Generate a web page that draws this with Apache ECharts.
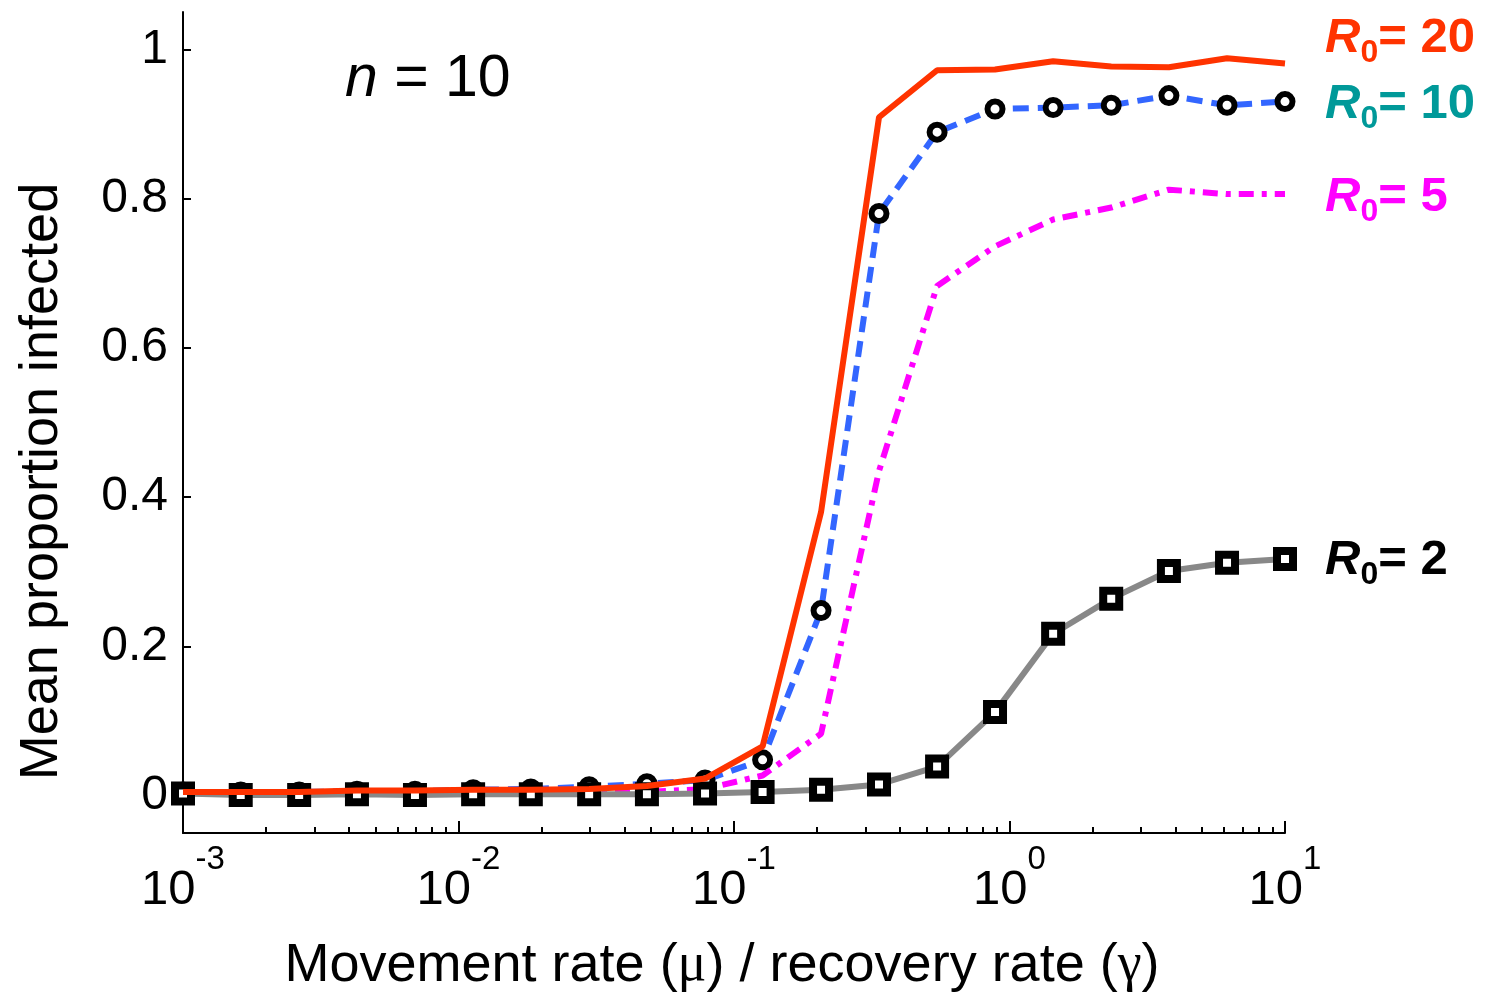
<!DOCTYPE html>
<html><head><meta charset="utf-8">
<script src="https://cdn.jsdelivr.net/npm/echarts@6/dist/echarts.min.js"></script>
<style>html,body{margin:0;padding:0;background:#fff}#c{width:1488px;height:998px}</style>
</head><body><div id="c"></div>
<script>
// Movement rate / recovery rate (log-spaced sample points)
const xValues = [0.001, 0.00162, 0.00264, 0.00428, 0.00695, 0.0113, 0.0183, 0.0298, 0.0483, 0.0785,
                 0.127, 0.207, 0.336, 0.546, 0.886, 1.44, 2.34, 3.79, 6.16, 10];
// Mean proportion infected
const r20 = [0.005, 0.005, 0.005, 0.007, 0.007, 0.008, 0.008, 0.009, 0.013, 0.023,
             0.066, 0.38, 0.909, 0.972, 0.973, 0.984, 0.977, 0.976, 0.988, 0.981];
const r10 = [0.005, 0.005, 0.005, 0.006, 0.006, 0.008, 0.009, 0.012, 0.016, 0.021,
             0.048, 0.248, 0.78, 0.889, 0.92, 0.922, 0.925, 0.938, 0.925, 0.930];
const r5  = [0.004, 0.004, 0.004, 0.004, 0.004, 0.004, 0.004, 0.004, 0.005, 0.009,
             0.027, 0.083, 0.435, 0.683, 0.736, 0.772, 0.788, 0.812, 0.806, 0.806];
const r2  = [0.003, 0.001, 0.001, 0.002, 0.001, 0.002, 0.002, 0.002, 0.002, 0.003,
             0.005, 0.008, 0.015, 0.039, 0.112, 0.217, 0.264, 0.301, 0.312, 0.317];
const seriesLabels = ['20', '10', '5', '2'];
const yTickValues = [0, 0.2, 0.4, 0.6, 0.8, 1];
const xTickValues = [0.001, 0.01, 0.1, 1, 10];
const xMinorTicks = [];
for (let d = -3; d < 1; d++) for (let k = 2; k <= 9; k++) xMinorTicks.push(+(k * Math.pow(10, d)).toPrecision(3));

const FONT = 'Liberation Sans';
const pair = ys => xValues.map((x, i) => [x, ys[i]]);

function endLabel(txt, color, dy) {
  return {
    show: true, distance: 40, offset: [0, dy], color: color,
    formatter: '{r|R}{s|0}{t|= ' + txt + '}',
    rich: {
      r: { fontFamily: FONT, fontSize: 49, fontWeight: 'bold', fontStyle: 'italic', color: color, lineHeight: 62 },
      s: { fontFamily: FONT, fontSize: 32, fontWeight: 'bold', color: color, lineHeight: 30, verticalAlign: 'bottom' },
      t: { fontFamily: FONT, fontSize: 49, fontWeight: 'bold', color: color, lineHeight: 62 }
    }
  };
}

const chart = echarts.init(document.getElementById('c'), null, { renderer: 'canvas' });
chart.setOption({
  backgroundColor: '#ffffff',
  animation: false,
  title: {
    text: '{i|n} = 10', left: 345, top: 50, padding: 0,
    textStyle: { fontFamily: FONT, fontSize: 59, fontWeight: 'normal', color: '#000', lineHeight: 59,
      rich: { i: { fontFamily: FONT, fontSize: 59, fontStyle: 'italic', color: '#000', lineHeight: 59 } } }
  },
  grid: { left: 183, right: 203, top: 12, bottom: 165 },
  xAxis: [{
    type: 'log', logBase: 10, min: 0.001, max: 10, position: 'bottom',
    name: 'Movement rate ({g|\u03bc}) / recovery rate ({g|\u03b3})',
    nameLocation: 'middle', nameGap: 106,
    nameTextStyle: { fontFamily: FONT, fontSize: 54, color: '#000', padding: [0, 24, 0, 0],
      rich: { g: { fontFamily: 'Liberation Serif', fontSize: 54, color: '#000' } } },
    axisLine: { show: true, onZero: false, lineStyle: { color: '#000', width: 2 } },
    axisTick: { show: true, inside: true, length: 12, customValues: xTickValues, lineStyle: { color: '#000', width: 2 } },
    axisLabel: {
      show: true, margin: 10, customValues: xTickValues,
      formatter: v => '{b|10}{s|' + Math.round(Math.log10(v)) + '}',
      rich: {
        b: { fontFamily: FONT, fontSize: 49, color: '#000', lineHeight: 94 },
        s: { fontFamily: FONT, fontSize: 33, color: '#000', lineHeight: 33, verticalAlign: 'top' }
      }
    },
    splitLine: { show: false }, minorTick: { show: false }
  }, {
    type: 'log', logBase: 10, min: 0.001, max: 10, position: 'bottom', offset: 0,
    axisLine: { show: false, onZero: false },
    axisTick: { show: true, inside: true, length: 6, customValues: xMinorTicks, lineStyle: { color: '#000', width: 2 } },
    axisLabel: { show: false }, splitLine: { show: false }
  }],
  yAxis: {
    type: 'value', min: -0.05, max: 1.05,
    name: 'Mean proportion infected', nameLocation: 'middle', nameGap: 114,
    nameTextStyle: { fontFamily: FONT, fontSize: 54, color: '#000', padding: [0, 118, 0, 0] },
    axisLine: { show: true, onZero: false, lineStyle: { color: '#000', width: 2 } },
    axisTick: { show: true, inside: true, length: 8, customValues: yTickValues, lineStyle: { color: '#000', width: 2 } },
    axisLabel: { show: true, margin: 15, customValues: yTickValues, fontFamily: FONT, fontSize: 48, color: '#000',
      formatter: v => String(+v.toFixed(2)) },
    splitLine: { show: false }
  },
  series: [
    {
      name: 'R0 = 10', type: 'line', z: 2, data: pair(r10),
      lineStyle: { color: '#3366FF', width: 6, type: [16, 9] },
      symbol: 'circle', symbolSize: 15, showAllSymbol: true,
      itemStyle: { color: '#ffffff', borderColor: '#000', borderWidth: 6 },
      endLabel: endLabel(seriesLabels[1], '#009999', 3)
    },
    {
      name: 'R0 = 5', type: 'line', z: 3, data: pair(r5),
      lineStyle: { color: '#FF00FF', width: 6, type: [15, 8, 5, 8] },
      symbol: 'none',
      endLabel: endLabel(seriesLabels[2], '#FF00FF', 3)
    },
    {
      name: 'R0 = 2', type: 'line', z: 4, data: pair(r2),
      lineStyle: { color: '#888888', width: 6 },
      symbol: 'rect', symbolSize: 16, showAllSymbol: true,
      itemStyle: { color: '#ffffff', borderColor: '#000', borderWidth: 8 },
      endLabel: endLabel(seriesLabels[3], '#000000', 1)
    },
    {
      name: 'R0 = 20', type: 'line', z: 5, data: pair(r20),
      lineStyle: { color: '#FF3300', width: 6 },
      symbol: 'none',
      endLabel: endLabel(seriesLabels[0], '#FF3300', -25)
    }
  ]
});
</script></body></html>
